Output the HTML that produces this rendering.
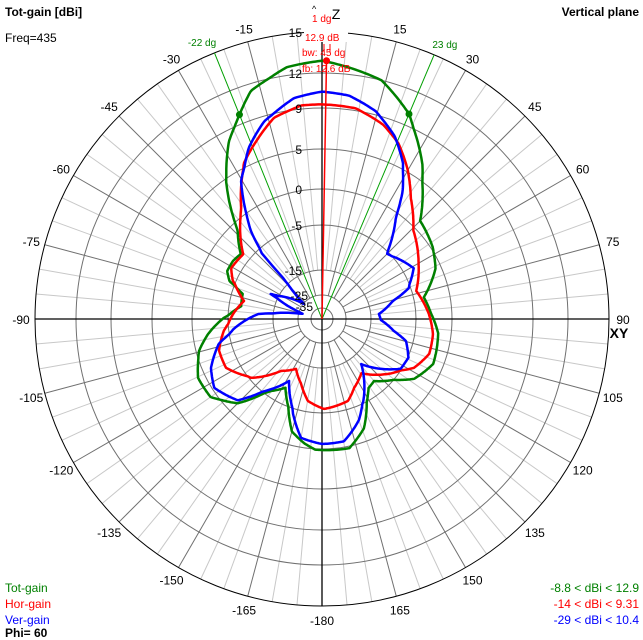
<!DOCTYPE html>
<html><head><meta charset="utf-8"><style>
html,body{margin:0;padding:0;background:#fff;}
svg{display:block;font-family:"Liberation Sans",sans-serif;}
</style></head><body>
<svg id="chart" width="643" height="640" viewBox="0 0 643 640">
<g id="grid"></g>
<g id="curves"></g>
<g id="labels"></g>
<text x="5" y="16" font-size="12" font-weight="bold">Tot-gain [dBi]</text>
<text x="5" y="42" font-size="12">Freq=435</text>
<text x="639" y="16" font-size="12" font-weight="bold" text-anchor="end">Vertical plane</text>
<text x="5" y="592" font-size="12" fill="#008000">Tot-gain</text>
<text x="5" y="608" font-size="12" fill="#ff0000">Hor-gain</text>
<text x="5" y="624" font-size="12" fill="#0000ff">Ver-gain</text>
<text x="5" y="637" font-size="12" font-weight="bold">Phi= 60</text>
<text x="639" y="592" font-size="12" fill="#008000" text-anchor="end">-8.8 &lt; dBi &lt; 12.9</text>
<text x="639" y="608" font-size="12" fill="#ff0000" text-anchor="end">-14 &lt; dBi &lt; 9.31</text>
<text x="639" y="624" font-size="12" fill="#0000ff" text-anchor="end">-29 &lt; dBi &lt; 10.4</text>
</svg>
<script>
const ringDb = [-35, -25, -15, -5, 0, 5, 9, 12, 15];
const ringLabels = ["-35", "-25", "-15", "-5", "0", "5", "9", "12", "15"];
const angleTicks = [-165,-150,-135,-120,-105,-90,-75,-60,-45,-30,-15,15,30,45,60,75,90,105,120,135,150,165,180];
const angleTickLabels = ["-165","-150","-135","-120","-105","-90","-75","-60","-45","-30","-15","15","30","45","60","75","90","105","120","135","150","165","-180"];
const totAngles = [0,14,23,33,45,57,66,78,87,97,112,123,140,146,156,159,168,183,188,195,208,215.3,225,235,244.6,255.4,262.5,270.6,279,287.6,292.2,296.8,303.1,308.7,316.3,325.2,332.4,338.3,342.7,352];
const totGain = [12.9,12.0,10.0,6.4,1.1,0.25,-0.8,-3.6,-2.9,-1.8,-1.4,-2.8,-7.9,-7.4,-3.1,-1.8,0.25,0.1,-0.6,-1.9,-8.6,-6.3,-1.5,0.75,0.9,-0.4,-2.1,-4.4,-7.7,-7.4,-4.2,-3.3,-3.3,-3.6,-1.1,4.75,8.0,9.9,11.4,12.6];
const horAngles = [0,9.2,17.4,23.5,30.2,36.3,46,60.2,73.4,87.3,97.7,108,118,128,144,155,162.4,178.7,189.7,198,207.5,218.3,230.3,243,253,263,273.2,283,293.1,299.3,309.4,323.9,333.3,340.5,346.6,354.4];
const horGain = [9.31,9.2,8.3,7.1,5.1,2.5,-0.4,-2.6,-4.4,-3.2,-2.5,-2.4,-3.6,-6.3,-11,-9,-6.8,-5.9,-7.4,-10.8,-13.4,-11.2,-5.4,-3.1,-3.1,-4.3,-6.1,-8.1,-4.6,-3.6,-3.9,0.9,5.4,7.1,8.6,9.3];
const verAngles = [0,6.9,14.6,21.7,27.6,32.3,36.2,45,50.5,61,70.4,75.8,85,91,99.5,104.7,114,122.3,133.3,139,153.4,160,169.8,180,190,197,205.6,208,216,226,237.4,246.2,256.4,263.5,274.5,285,296,310,316.5,317.5,321,329.6,336.9,343.7,352.8];
const verGain = [10.4,10.2,9.3,7.6,5.5,2.6,-0.7,-5.4,-4.7,-3.5,-5.4,-9.7,-13.2,-12.8,-9.7,-6.6,-4.9,-5.2,-10.1,-12.6,-5.4,-3.1,-0.8,-0.7,-1.3,-4.3,-9,-10.3,-6.6,-1.8,-0.3,-1.2,-3.3,-6.1,-11.7,-28,-13.2,-25.4,-13.4,-6.1,-2.4,3.75,6.6,8.5,10];
const beamAngles = [-22, 23];
const beamLabels = ["-22 dg", "23 dg"];
const peakAngle = [1];
const peakGain = [12.9];

const CX = 322, CY = 319;
const ringRadii = [11, 24, 49, 94, 130, 170, 211, 246, 287];
const NS = 'http://www.w3.org/2000/svg';
function rOf(db) {
  if (db <= ringDb[0]) return Math.max(0, ringRadii[0] + (db - ringDb[0]) * 1.1);
  for (let i = 1; i < ringDb.length; i++) {
    if (db <= ringDb[i]) {
      const t = (db - ringDb[i-1]) / (ringDb[i] - ringDb[i-1]);
      return ringRadii[i-1] + t * (ringRadii[i] - ringRadii[i-1]);
    }
  }
  return ringRadii[ringRadii.length-1];
}
function pt(deg, r) { const a = deg * Math.PI / 180; return [CX + r * Math.sin(a), CY - r * Math.cos(a)]; }
function mk(tag, attrs, parent) { const e = document.createElementNS(NS, tag); for (const k in attrs) e.setAttribute(k, attrs[k]); parent.appendChild(e); return e; }

const grid = document.getElementById('grid');
const R = rOf(15);
for (let d = 0; d < 360; d += 5) {
  if (d % 15 === 0) continue;
  const a = pt(d, rOf(-15)), b = pt(d, R);
  const l = mk('line', {x1:a[0],y1:a[1],x2:b[0],y2:b[1],stroke:'#c8c8c8','stroke-width':1}, grid);
  
  
}
for (let d = 0; d < 360; d += 15) {
  if (d % 90 === 0) continue;
  const a = pt(d, rOf(-25)), b = pt(d, R);
  const l = mk('line', {x1:a[0],y1:a[1],x2:b[0],y2:b[1],stroke:'#707070','stroke-width':1}, grid);
  
  
}
ringDb.forEach((db, i) => {
  const last = i === ringDb.length - 1;
  const c = mk('circle', {cx:CX, cy:CY, r:rOf(db), fill:'none', stroke: last ? '#000' : '#707070', 'stroke-width':1}, grid);
  
  
});
for (let d = 0; d < 360; d += 90) {
  const b = pt(d, R);
  const l = mk('line', {x1:CX,y1:CY,x2:b[0],y2:b[1],stroke:'#000','stroke-width':1.3}, grid);
  
  
}
beamAngles.forEach((ang, i) => {
  const b = pt(ang, R);
  const l = mk('line', {x1:CX,y1:CY,x2:b[0],y2:b[1],stroke:'#00a000','stroke-width':1}, grid);
  
  
  const lp = pt(ang, R + 12);
  const t = mk('text', {x:lp[0] + (ang < 0 ? -8 : 6), y:lp[1]+4, 'font-size':10, fill:'#008000', 'text-anchor':'middle'}, grid);
  t.textContent = beamLabels[i];
  
  
});

function interp(angles, vals, deg) {
  const n = angles.length;
  for (let i = 0; i < n; i++) {
    const a0 = angles[i], a1 = i + 1 < n ? angles[i+1] : angles[0] + 360;
    const v0 = vals[i], v1 = i + 1 < n ? vals[i+1] : vals[0];
    if (deg >= a0 && deg <= a1) { const t = a1 === a0 ? 0 : (deg - a0) / (a1 - a0); return v0 + t * (v1 - v0); }
  }
  return vals[0];
}
const curves = document.getElementById('curves');
function drawCurve(angles, vals, color, name) {
  const pts = [];
  for (let d = 0; d <= 360; d += 0.5) {
    const p = pt(d, rOf(interp(angles, vals, d % 360 === 0 && d > 0 ? 0 : d)));
    pts.push(p[0].toFixed(1) + ',' + p[1].toFixed(1));
  }
  const pl = mk('polyline', {points: pts.join(' '), fill:'none', stroke: color, 'stroke-width': 2.5, 'stroke-linejoin':'round'}, curves);
  
  
}
drawCurve(totAngles, totGain, '#008000', 'tot-gain-curve');
drawCurve(horAngles, horGain, '#ff0000', 'hor-gain-curve');
drawCurve(verAngles, verGain, '#0000ff', 'ver-gain-curve');

beamAngles.forEach(ang => {
  const p = pt(ang, rOf(interp(totAngles, totGain, (ang + 360) % 360)));
  const c = mk('circle', {cx:p[0], cy:p[1], r:3.5, fill:'#008000'}, curves);
  
  
});
const pk = pt(peakAngle[0], rOf(peakGain[0]));
const pl = mk('line', {x1:CX, y1:CY, x2:pk[0], y2:pk[1], stroke:'#ff0000', 'stroke-width':1.5}, curves);


const pd = mk('circle', {cx:pk[0], cy:pk[1], r:3.5, fill:'#ff0000'}, curves);



const labels = document.getElementById('labels');
const ringLabelX = [313, 308, 302, 302, 302, 302, 302, 302, 302];
ringDb.forEach((db, i) => {
  if (i === 0) return;
  const y = CY - rOf(db);
  const t = mk('text', {x: ringLabelX[i], y: y + 5, 'font-size':12, 'text-anchor':'end', fill:'#000'}, labels);
  t.textContent = ringLabels[i];
  
  
});
{
  const t = mk('text', {x: 313, y: CY - 8, 'font-size':12, 'text-anchor':'end', fill:'#000'}, labels);
  t.textContent = ringLabels[0];
  
  
}
angleTicks.forEach((ang, i) => {
  const p = pt(ang, 301);
  const t = mk('text', {x:p[0], y:p[1] + 5, 'font-size':12, 'text-anchor':'middle', fill:'#000'}, labels);
  t.textContent = angleTickLabels[i];
  
  
});
function txt(x, y, s, attrs, name) {
  const t = mk('text', Object.assign({x:x, y:y, 'font-size':12}, attrs), labels);
  t.textContent = s;
  
  
  return t;
}
txt(336, 19, 'Z', {'font-size':14, 'text-anchor':'middle'}, 'z-axis-label');
txt(619, 338, 'XY', {'font-size':14, 'font-weight':'bold', 'text-anchor':'middle'}, 'xy-axis-label');
txt(312, 22, '1 dg', {'font-size':10, fill:'#ff0000'}, 'peak-angle-label');
txt(312, 12, '^', {'font-size':9, fill:'#000'}, 'peak-hat');
const bg1 = mk('rect', {x:304, y:31, width:44, height:11, fill:'#fff'}, labels);


txt(305, 41, '12.9 dB', {'font-size':10, fill:'#ff0000'}, 'peak-gain-label');
txt(302, 56, 'bw: 45 dg', {'font-size':10, fill:'#ff0000'}, 'beamwidth-value-label');
txt(302, 72, 'fb: 12.6 dB', {'font-size':10, fill:'#ff0000'}, 'front-back-label');
[324, 330].forEach(x => {
  const l = mk('line', {x1:x, y1:44, x2:x, y2:52, stroke:'#ff0000', 'stroke-width':1}, labels);
  
  
});
</script>
</body></html>
